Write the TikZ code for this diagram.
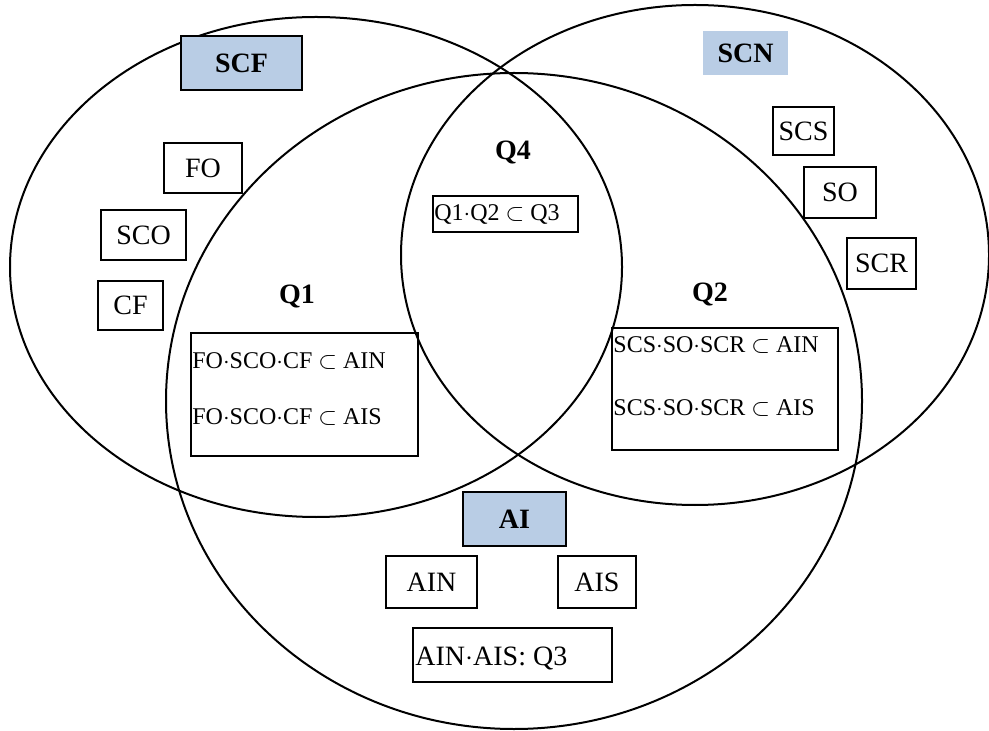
\documentclass[tikz,border=0pt]{standalone}
\usepackage{amsmath, amssymb}
\usepackage{fontspec}
\setmainfont{Liberation Serif}
\definecolor{setblue}{RGB}{185,205,229}

\begin{document}
\begin{tikzpicture}[x=0.5pt, y=-0.5pt,
  every node/.style={font=\fontsize{14}{16}\selectfont, inner sep=0pt},
  item/.style={draw, line width=1pt, rectangle},
  setname/.style={item, fill=setblue, font=\fontsize{14}{16}\selectfont\bfseries},
  rule/.style={anchor=west, font=\fontsize{12}{14}\selectfont}]
\useasboundingbox (0,0) rectangle (989,731);
% the three sets
\draw[line width=1pt] (316,267) ellipse [x radius=153pt, y radius=125pt];
\draw[line width=1pt] (695,255) ellipse [x radius=147pt, y radius=125pt];
\draw[line width=1pt] (514,401) ellipse [x radius=174pt, y radius=164pt];

% SCF
\path (241.5,63) node[setname, minimum width=60.5pt, minimum height=27pt] (scf) {SCF};
\path (203,168) node[item, minimum width=39pt, minimum height=25pt] (fo) {FO};
\path (143.5,235) node[item, minimum width=42.5pt, minimum height=25pt] (sco) {SCO};
\path (130.5,305.5) node[item, minimum width=32.5pt, minimum height=24.5pt] (cf) {CF};

% SCN
\path (745.5,53) node[setname, draw=none, minimum width=42.5pt, minimum height=22pt] (scn) {SCN};
\path (803.5,131) node[item, minimum width=30.5pt, minimum height=24pt] (scs) {SCS};
\path (840,192.5) node[item, minimum width=36pt, minimum height=25.5pt] (so) {SO};
\path (881.5,263.5) node[item, minimum width=34.5pt, minimum height=25.5pt] (scr) {SCR};

% AI
\path (514.5,519) node[setname, minimum width=51.5pt, minimum height=27pt] (ai) {AI};
\path (431.5,582) node[item, minimum width=45.5pt, minimum height=26pt] (ain) {AIN};
\path (597,582) node[item, minimum width=39pt, minimum height=26pt] (ais) {AIS};
\path (512.5,655) node[item, minimum width=99.5pt, minimum height=27pt] (q3box) {};
\path (415,658) node[anchor=west] (q3) {AIN$\cdot$AIS: Q3};

% Q1
\path (297,297) node[font=\fontsize{14}{16}\selectfont\bfseries] (q1) {Q1};
\path (304.5,394.5) node[item, minimum width=113.5pt, minimum height=61.5pt] (q1box) {};
\path (192,361) node[rule] (q1a) {FO$\cdot$SCO$\cdot$CF $\subset$ AIN};
\path (192,417) node[rule] (q1b) {FO$\cdot$SCO$\cdot$CF $\subset$ AIS};

% Q2
\path (710,295) node[font=\fontsize{14}{16}\selectfont\bfseries] (q2) {Q2};
\path (725,389) node[item, minimum width=113pt, minimum height=61pt] (q2box) {};
\path (613,345) node[rule] (q2a) {SCS$\cdot$SO$\cdot$SCR $\subset$ AIN};
\path (613,408) node[rule] (q2b) {SCS$\cdot$SO$\cdot$SCR $\subset$ AIS};

% Q4
\path (513,153) node[font=\fontsize{14}{16}\selectfont\bfseries] (q4) {Q4};
\path (505.5,214) node[item, minimum width=72.5pt, minimum height=18pt] (q4box) {};
\path (434,215) node[rule] (q4rule) {Q1$\cdot$Q2 $\subset$ Q3};
\end{tikzpicture}
\end{document}
